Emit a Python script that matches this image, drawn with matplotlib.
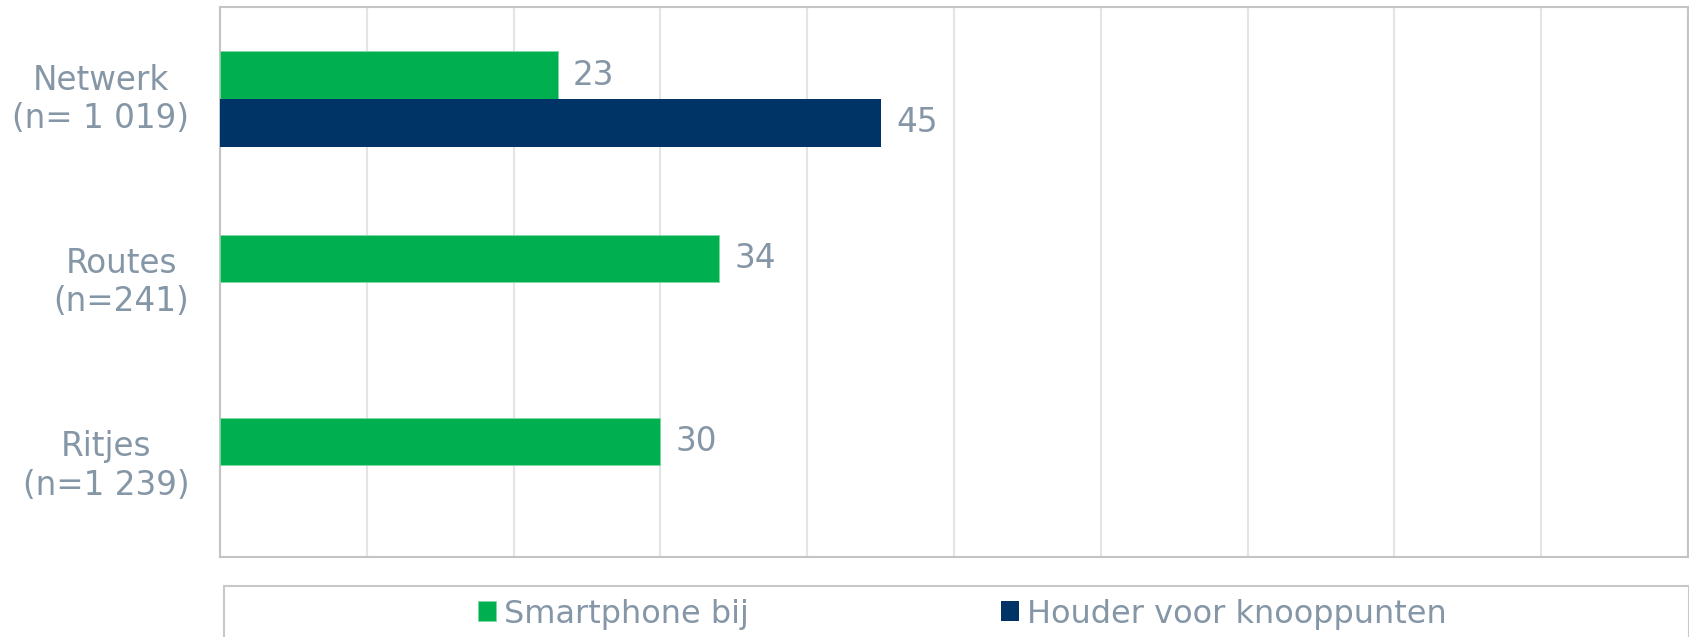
import matplotlib.pyplot as plt
from matplotlib.patches import Rectangle
from matplotlib.transforms import ScaledTranslation
import numpy as np

categories = ['Netwerk\n(n= 1 019)', 'Routes\n(n=241)', 'Ritjes\n(n=1 239)']
smartphone = [23, 34, 30]
houder = [45]  # only asked for Netwerk
series_names = ['Smartphone bij', 'Houder voor knooppunten']

green = '#00B050'
navy = '#003366'
text_grey = '#8597A7'

fig = plt.figure(figsize=(16.9, 6.37), dpi=100)
ax = fig.add_axes([220/1690, 1-557/637, 1468/1690, 549.5/637])

y = np.arange(len(categories))
h = 0.26
b1 = ax.barh(y - h/2, smartphone, height=h, color=green, edgecolor='#7FD9A0', linewidth=0.6, zorder=3)
b2 = ax.barh(y[:len(houder)] + h/2, houder, height=h, color=navy, zorder=3)

ax.bar_label(b1, padding=11, fontsize=23.5, color=text_grey)
ax.bar_label(b2, padding=11, fontsize=23.5, color=text_grey)

ax.set_xlim(0, 100)
ax.set_ylim(2.5, -0.5)
ax.set_xticks(np.arange(0, 101, 10))
ax.set_xticklabels([])
ax.set_yticks(y)
ax.set_yticklabels(categories, fontsize=23.5, color=text_grey, multialignment='center')
ax.tick_params(length=0, pad=22)
# nudge the two-line labels up a little
for lab in ax.get_yticklabels():
    lab.set_transform(lab.get_transform() + ScaledTranslation(0, 4/72, fig.dpi_scale_trans))
ax.grid(axis='x', color='#E1E5EA', linewidth=1.5, zorder=0)
for s in ax.spines.values():
    s.set_color('#C4C4C4')
    s.set_linewidth(1.5)

# legend box (runs off the bottom edge)
fig.patches.append(Rectangle((224/1690, -0.05), (1689-224)/1690, (1-586/637)+0.05,
                             transform=fig.transFigure, fill=False,
                             edgecolor='#C8C8C8', linewidth=1.5))
fig.legend([b1, b2], series_names, loc='center left',
           bbox_to_anchor=(478/1690, 1-614/637), ncol=2, frameon=False,
           fontsize=23, labelcolor=text_grey, handlelength=0.56, handleheight=0.56,
           handletextpad=0.25, columnspacing=7.9, borderpad=0, borderaxespad=0)

fig.savefig('out.png', dpi=100)
